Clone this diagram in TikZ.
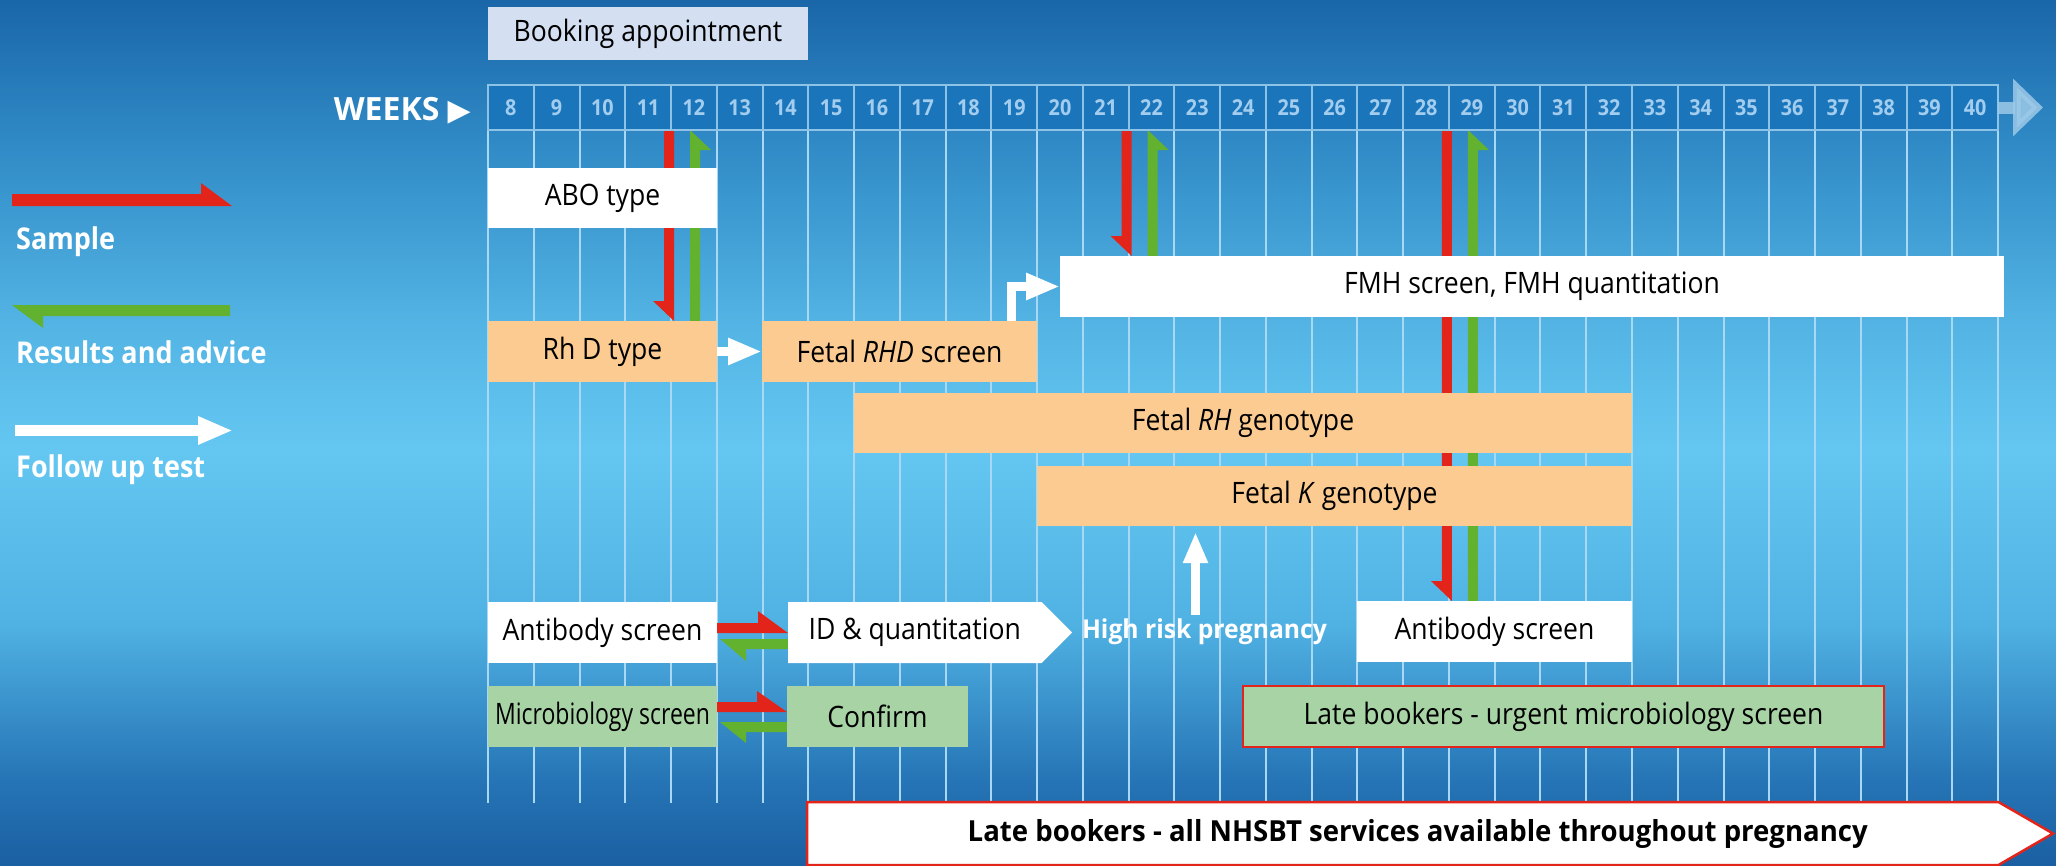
\documentclass[tikz,border=0pt]{standalone}
\usepackage{fontspec}
\setmainfont{Open Sans}[FakeStretch=0.9]
\newfontfamily\narrowfont{Open Sans}[FakeStretch=0.78]
\newfontfamily\bannerfont{Open Sans}[FakeStretch=0.95]
\newfontfamily\widefont{Open Sans}
\newfontfamily\symfont{DejaVu Sans}
\usetikzlibrary{arrows.meta, calc, shapes.symbols}

\definecolor{bgtop}{HTML}{1A66A8}
\definecolor{bgupper}{HTML}{2F89C5}
\definecolor{bgmidup}{HTML}{54B5E5}
\definecolor{bglight}{HTML}{64C7F1}
\definecolor{bgmidlow}{HTML}{50B2E3}
\definecolor{bglow}{HTML}{2675B6}
\definecolor{bgbottom}{HTML}{1A5FA2}
\definecolor{hdrfill}{HTML}{1A75BB}
\definecolor{hdrline}{HTML}{8EC3E8}
\definecolor{hdrtext}{HTML}{A2CDEE}
\definecolor{gridcol}{HTML}{A8D8F4}
\definecolor{bookfill}{HTML}{D4DFF2}
\definecolor{rhfill}{HTML}{FBCB91}
\definecolor{microfill}{HTML}{A7D3A5}
\definecolor{samplered}{HTML}{E3241A}
\definecolor{resultgreen}{HTML}{63B22F}
\definecolor{weekarrow}{HTML}{9CC9E8}

\pgfdeclareverticalshading{sky}{100bp}{color(0bp)=(bgbottom); color(25bp)=(bgbottom);
  color(30bp)=(bglow); color(39bp)=(bgmidlow); color(49bp)=(bglight); color(56bp)=(bgmidup);
  color(67bp)=(bgupper); color(75bp)=(bgtop); color(100bp)=(bgtop)}

\pgfdeclarelayer{bg}
\pgfdeclarelayer{arrows}
\pgfsetlayers{bg,arrows,main}

\begin{document}
\begin{tikzpicture}[x=1pt, y=-1pt]
  \tikzset{
    box/.style={rectangle, anchor=north west, inner sep=0pt, outer sep=0pt, minimum height=61pt,
      text=black, font=\fontsize{29.5}{34}\selectfont},
    whitebox/.style={box, fill=white},
    rhbox/.style={box, fill=rhfill},
    microbox/.style={box, fill=microfill},
    weekcell/.style={rectangle, anchor=north west, draw=hdrline, line width=2pt, fill=hdrfill,
      minimum width=45.76pt, minimum height=45pt, inner sep=0pt, outer sep=0pt,
      text=hdrtext, font=\fontsize{22}{24}\selectfont\bfseries},
    legend/.style={anchor=base west, inner sep=0pt, text=white, font=\fontsize{30}{34}\selectfont\bfseries},
    hrptext/.style={anchor=base, font=\bannerfont\fontsize{26}{30}\selectfont\bfseries},
    gridline/.style={draw=gridcol, line width=2pt},
    followarr/.style={draw=white, line width=9pt, -{Triangle[length=34pt, width=25pt]}},
    weekarr/.style={draw=weekarrow, opacity=0.85, line width=12pt, -{Triangle[length=30pt, width=56pt]}},
    flag w/.store in=\flagw, flag h/.store in=\flagh, flag b/.store in=\flagb,
    flag side/.store in=\flags,
    flag w=10pt, flag h=20pt, flag b=21pt, flag side=1,
    flagarrow/.style={to path={
      let \p1=(\tikztostart), \p2=(\tikztotarget),
          \n1={veclen(\x2-\x1,\y2-\y1)},
          \n2={(\x2-\x1)/\n1}, \n3={(\y2-\y1)/\n1}
      in (\p1) -- (\p2)
         -- ({\x2-\n2*\flagh-(\flags)*\n3*\flagb},{\y2-\n3*\flagh+(\flags)*\n2*\flagb})
         -- ({\x2-\n2*\flagh-(\flags)*\n3*\flagw},{\y2-\n3*\flagh+(\flags)*\n2*\flagw})
         -- ({\x1-(\flags)*\n3*\flagw},{\y1+(\flags)*\n2*\flagw})
         -- cycle}},
    samplearr/.style={flagarrow, fill=samplered},
    resultarr/.style={flagarrow, fill=resultgreen}
  }
  \useasboundingbox (0,0) rectangle (2056,865);

  \node[box, fill=bookfill, minimum width=320pt, minimum height=53pt] (book) at (488,7) {Booking appointment};
  \node[anchor=base east, inner sep=0pt, text=white, font=\widefont\fontsize{32}{36}\selectfont\bfseries] (weeks) at (471,120) {WEEKS {\symfont\fontsize{30}{34}\selectfont ▶}};
  \foreach \w in {8,...,40}
    \node[weekcell] (w\w) at ({488+(\w-8)*45.76},85) {\w};
  \coordinate (wkend) at (2043,107.5);
  \draw[weekarr] (w40.east) -- (wkend);

  \node[legend] (samplelbl) at (16,249) {Sample};
  \node[legend] (resultlbl) at (16,363) {Results and advice};
  \node[legend] (followlbl) at (16,477) {Follow up test};

  \node[whitebox, minimum width=229pt, minimum height=60pt] (abo) at (488,168) {ABO type};
  \node[rhbox, minimum width=229pt] (rhd) at (488,321) {Rh D type};
  \node[rhbox, minimum width=275pt] (fetalrhd) at (762,321) {Fetal \textit{RHD} screen};
  \node[whitebox, minimum width=944pt] (fmh) at (1060,256) {FMH screen, FMH quantitation};
  \node[rhbox, minimum width=778pt, minimum height=60pt] (fetalrh) at (854,393) {Fetal \textit{RH} genotype};
  \node[rhbox, minimum width=595pt, minimum height=60pt] (fetalk) at (1037,466) {Fetal \textit{K} genotype};
  \node[whitebox, minimum width=229pt] (abscreen) at (488,602) {Antibody screen};
  \node[whitebox, signal, signal to=east, signal pointer angle=90, anchor=west,
    minimum width=284pt] (idquant) at (788,632.5) {ID \& quantitation};
  \node[hrptext, text=white] (hrp) at (1204.5,638) {High risk pregnancy};
  \node[whitebox, minimum width=275pt] (ablate) at (1357,601) {Antibody screen};
  \node[microbox, minimum width=229pt, font=\narrowfont\fontsize{29.5}{34}\selectfont] (micro) at (488,686) {Microbiology screen};
  \node[microbox, minimum width=181pt] (confirm) at (787,686) {Confirm};
  \node[microbox, draw=samplered, line width=2.5pt, minimum width=641pt] (latemicro) at (1243,686) {Late bookers - urgent microbiology screen};
  \node[whitebox, signal, signal to=east, signal pointer angle=60, anchor=west, draw=samplered,
    line width=2.5pt, minimum width=1246pt, minimum height=63pt,
    font=\bannerfont\fontsize{29}{32}\selectfont\bfseries] (banner) at (807,833.5)
    {\hspace*{30pt}Late bookers - all NHSBT services available throughout pregnancy};

  \begin{pgfonlayer}{bg}
    \shade[shading=sky] (0,0) rectangle (2056,865);
    \foreach \w in {8,...,40}
      \draw[gridline] (w\w.south west) -- ++(0,673);
    \draw[gridline] (w40.south east) -- ++(0,673);
  \end{pgfonlayer}

  \begin{pgfonlayer}{arrows}
    \foreach \w/\b in {12/rhd, 22/fmh, 29/ablate} {
      \coordinate (s\w) at ($(w\w.south west)+(3,0)$);
      \coordinate (r\w) at ($(w\w.south west)+(19,0)$);
      \fill[samplearr, flag side=-1] (s\w) to (s\w |- \b.north);
      \fill[resultarr, flag side=-1] (r\w |- \b.north) to (r\w);
    }
    \fill[samplearr, flag h=30pt, flag b=22pt] ($(abscreen.east)+(0,0.5)$) to ($(idquant.west)+(0,0.5)$);
    \fill[resultarr, flag h=26pt, flag b=22pt] ($(idquant.west)+(0,6.5)$) to ($(abscreen.east)+(3,6.5)$);
    \fill[samplearr, flag h=30pt, flag b=21pt] ($(micro.east)+(0,-4.5)$) to ($(confirm.west)+(0,-4.5)$);
    \fill[resultarr, flag h=26pt, flag b=21pt] ($(confirm.west)+(0,5.5)$) to ($(micro.east)+(3,5.5)$);
  \end{pgfonlayer}

  \draw[followarr] (rhd.east) -- (fetalrhd.west);
  \draw[followarr] ($(fetalrhd.north east)+(-25.5,0)$) |- (fmh.west);
  \coordinate (hrtip) at (1195.5,532);
  \draw[followarr, -{Triangle[length=31pt, width=23pt]}] (hrtip |- hrp.north) -- (hrtip);

  \coordinate (sampleA) at (12,206);
  \coordinate (sampleB) at (232,206);
  \fill[samplearr, flag w=12pt, flag h=31pt, flag b=23pt] (sampleA) to (sampleB);
  \coordinate (resultA) at (230,305);
  \coordinate (resultB) at (12,305);
  \fill[resultarr, flag w=11pt, flag h=31pt, flag b=23pt] (resultA) to (resultB);
  \coordinate (followA) at (15,430.5);
  \coordinate (followB) at (233,430.5);
  \draw[followarr, line width=11pt, -{Triangle[length=35pt, width=26pt]}] (followA) -- (followB);
\end{tikzpicture}
\end{document}
